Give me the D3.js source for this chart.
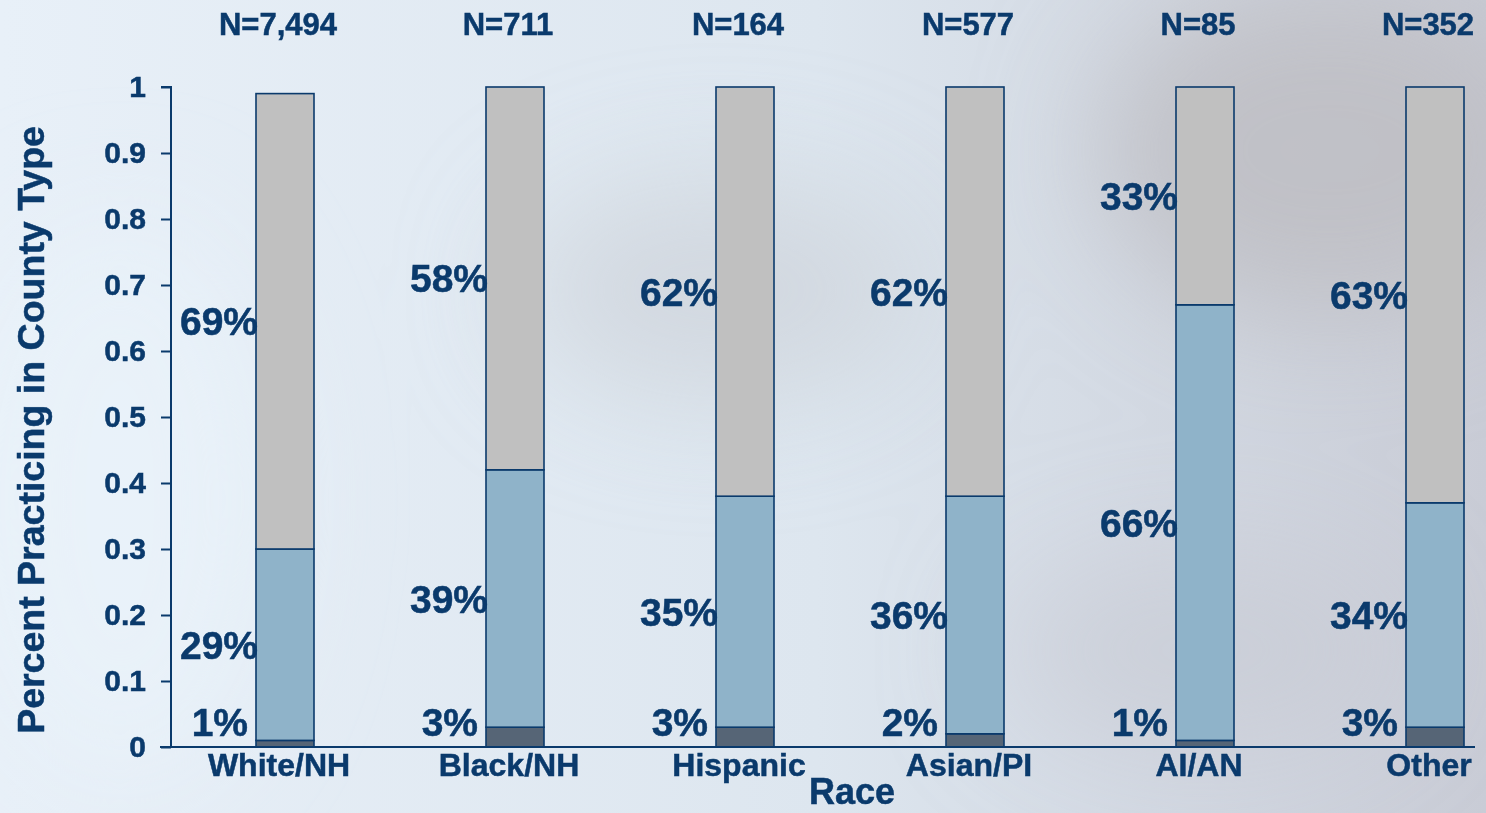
<!DOCTYPE html>
<html>
<head>
<meta charset="utf-8">
<script src="https://cdn.jsdelivr.net/npm/d3@7/dist/d3.min.js"></script>
<style>
  html, body { margin: 0; padding: 0; background: #dfe8f1; }
  svg { display: block; }
  text { font-family: "Liberation Sans", Arial, sans-serif; font-weight: bold; fill: #0a3a6c; stroke: #0a3a6c; stroke-width: 0.5px; }
</style>
</head>
<body>
<svg id="chart" width="1486" height="813"></svg>
<script>
// ---- data ----
const categories = ["White/NH", "Black/NH", "Hispanic", "Asian/PI", "AI/AN", "Other"];
const sampleSizes = ["N=7,494", "N=711", "N=164", "N=577", "N=85", "N=352"];
const bottomValues = [0.01, 0.03, 0.03, 0.02, 0.01, 0.03];
const middleValues = [0.29, 0.39, 0.35, 0.36, 0.66, 0.34];
const topValues    = [0.69, 0.58, 0.62, 0.62, 0.33, 0.63];
const yTicks = [0, 0.1, 0.2, 0.3, 0.4, 0.5, 0.6, 0.7, 0.8, 0.9, 1];
const yTitle = "Percent Practicing in County Type";
const xTitle = "Race";

// ---- setup ----
const W = 1486, H = 813;
const svg = d3.select("#chart");
const navy = "#0a3a6c";
const fills = ["#566576", "#8fb3c9", "#c0c0c0"];

// background
const defs = svg.append("defs");
const lg = defs.append("linearGradient").attr("id", "bg").attr("x1", "0").attr("x2", "1").attr("y1", "0").attr("y2", "0");
lg.append("stop").attr("offset", "0").attr("stop-color", "#e8f0f8");
lg.append("stop").attr("offset", "0.55").attr("stop-color", "#dde6ef");
lg.append("stop").attr("offset", "1").attr("stop-color", "#c9ccd6");
svg.append("rect").attr("width", W).attr("height", H).attr("fill", "url(#bg)");
const blur = defs.append("filter").attr("id", "blur").attr("x", "-50%").attr("y", "-50%").attr("width", "200%").attr("height", "200%");
blur.append("feGaussianBlur").attr("stdDeviation", 60);
const bgBlobs = svg.append("g").attr("filter", "url(#blur)");
bgBlobs.append("ellipse").attr("cx", 1330).attr("cy", 150).attr("rx", 230).attr("ry", 170).attr("fill", "#bfbfc4").attr("opacity", 0.9);
bgBlobs.append("ellipse").attr("cx", 720).attr("cy", 290).attr("rx", 200).attr("ry", 110).attr("fill", "#cdd2d9").attr("opacity", 0.7);
bgBlobs.append("ellipse").attr("cx", 1200).attr("cy", 650).attr("rx", 200).attr("ry", 100).attr("fill", "#c8c9d3").attr("opacity", 0.6);
bgBlobs.append("ellipse").attr("cx", 120).attr("cy", 500).attr("rx", 150).attr("ry", 280).attr("fill", "#eaf2fa").attr("opacity", 0.8);

// scales
const y = d3.scaleLinear().domain([0, 1]).range([747, 87]);
const x = d3.scalePoint().domain(categories).range([285, 1435]);
const barW = 58;

// stacked data
const rows = categories.map((c, i) => ({ cat: c, b: bottomValues[i], m: middleValues[i], t: topValues[i] }));
const stack = d3.stack().keys(["b", "m", "t"]);
const series = stack(rows);

// bars
const gBars = svg.append("g");
series.forEach((s, k) => {
  gBars.selectAll(null).data(s).enter().append("rect")
    .attr("x", d => x(d.data.cat) - barW / 2)
    .attr("y", d => y(d[1]))
    .attr("width", barW)
    .attr("height", d => y(d[0]) - y(d[1]))
    .attr("fill", fills[k])
    .attr("stroke", navy)
    .attr("stroke-width", 1.6);
});

// value labels
const pct = d3.format(".0%");
const gLab = svg.append("g");
series.forEach((s, k) => {
  gLab.selectAll(null).data(s).enter().append("text")
    .attr("x", d => x(d.data.cat) - barW / 2 + (k === 0 ? -8 : 2))
    .attr("y", d => k === 0 ? y(0) - 25 : y((d[0] + d[1]) / 2))
    .attr("dy", "0.36em")
    .attr("text-anchor", "end")
    .attr("font-size", 39)
    .text(d => pct(d[1] - d[0]));
});

// y axis
const yAxis = d3.axisLeft(y).tickValues(yTicks).tickFormat(d3.format("~g")).tickSize(10).tickPadding(15);
const gy = svg.append("g").attr("transform", "translate(171,0)").call(yAxis);
gy.select(".domain").attr("stroke", navy).attr("stroke-width", 2).attr("d", `M-10,${y(1)}H0V${y(0)}`);
gy.selectAll(".tick line").attr("stroke", navy).attr("stroke-width", 2);
gy.selectAll(".tick text").attr("font-size", 30).attr("fill", navy).attr("font-family", "Liberation Sans, Arial, sans-serif").attr("font-weight", "bold");

// x axis baseline
svg.append("line").attr("x1", 160).attr("x2", 1475).attr("y1", y(0)).attr("y2", y(0))
  .attr("stroke", navy).attr("stroke-width", 2);

// category labels
svg.append("g").selectAll("text").data(categories).enter().append("text")
  .attr("x", d => x(d) - 6)
  .attr("y", 776)
  .attr("text-anchor", "middle")
  .attr("font-size", 32)
  .text(d => d);

// N labels
svg.append("g").selectAll("text").data(sampleSizes).enter().append("text")
  .attr("x", (d, i) => x(categories[i]) - 7)
  .attr("y", 35)
  .attr("text-anchor", "middle")
  .attr("font-size", 31)
  .text(d => d);

// axis titles
svg.append("text").attr("x", 852).attr("y", 804).attr("text-anchor", "middle").attr("font-size", 36).text(xTitle);
svg.append("text").attr("transform", "translate(44,430) rotate(-90)").attr("text-anchor", "middle").attr("font-size", 37.5).text(yTitle);
</script>
</body>
</html>
